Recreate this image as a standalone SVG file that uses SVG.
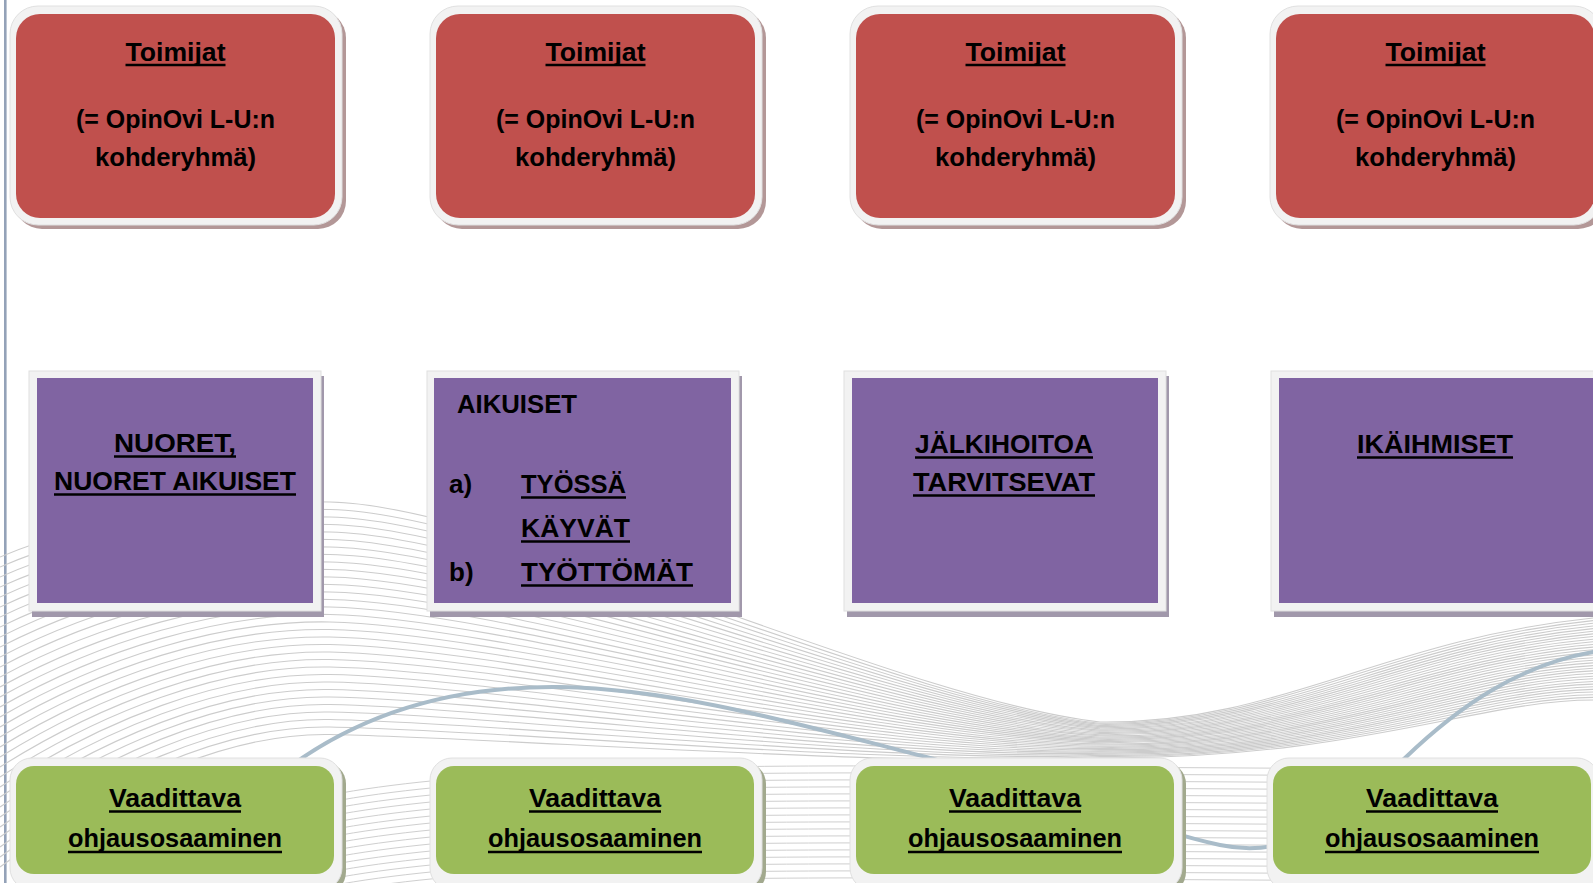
<svg xmlns="http://www.w3.org/2000/svg" width="1593" height="883" viewBox="0 0 1593 883">
<defs>
<style>
.bgl{fill:none;stroke:#cccccc;stroke-width:1.1}
.bgl2{fill:none;stroke:#cfcfcf;stroke-width:1}
.wave{fill:none;stroke:#a9bcc9;stroke-width:4;stroke-linecap:round}
.frame{fill:#f2f2f2;stroke:#e0e0e0;stroke-width:1}
.red{fill:#c0504d}
.purple{fill:#8064a2}
.green{fill:#9bbb59}
.shr{fill:#b39797}
.shp{fill:#a198ab}
.shg{fill:#a2a98e}
.t{font-family:"Liberation Sans",Arial,sans-serif;font-weight:bold;fill:#000}
.r{font-size:26px}
.p{font-size:26.4px}
.g{font-size:25.5px}
.ul{stroke:#000;stroke-width:2.6}
</style>
</defs>
<rect x="0" y="0" width="1593" height="883" fill="#ffffff"/>
<g id="background">
<rect x="4" y="0" width="2.6" height="883" fill="#94a2b8"/>
<g id="lines-main" class="bgl">
<path d="M0,557 C100,515 220,500 330,502 C500,505 900,700 1100,722 C1280,724 1380,640 1593,618"/>
<path d="M0,567 C100,524 220,507.5 330,509.5 C500,512.5 900,702.2 1100,723.2 C1282,725 1383,642 1593,620.6"/>
<path d="M0,577 C100,533 220,515 330,517 C500,520 900,704.4 1100,724.3 C1284.5,726.3 1386.5,644 1593,623.3"/>
<path d="M0,587 C100,542 220,522.5 330,524.5 C500,527.5 900,706.6 1100,725.5 C1287,727.5 1390,646 1593,626"/>
<path d="M0,597 C100,551 220,530 330,532 C500,535 900,708.8 1100,726.6 C1289,728.6 1393,648 1593,628.6"/>
<path d="M0,607 C100,560 220,537.5 330,539.5 C500,542.5 900,711 1100,727.8 C1291,730 1396,650 1593,631.2"/>
<path d="M0,617 C100,569 220,545 330,547 C500,550 900,713.2 1100,728.9 C1293.6,731 1399.4,651.6 1593,633.9"/>
<path d="M0,627 C100,578 220,552.5 330,554.5 C500,557.5 900,715.4 1100,730.1 C1296,732 1402.6,653.5 1593,636.5"/>
<path d="M0,637 C100,587 220,560 330,562 C500,565 900,717.6 1100,731.2 C1298,733.3 1405.8,655.5 1593,639.2"/>
<path d="M0,647 C100,596 220,567.5 330,569.5 C500,572.5 900,719.8 1100,732.4 C1300,734.4 1409,657.4 1593,641.8"/>
<path d="M0,657 C100,605 220,575 330,577 C500,580 900,722 1100,733.5 C1302.6,735.6 1412.3,659.4 1593,644.5"/>
<path d="M0,667 C100,614 220,582.5 330,584.5 C500,587.5 900,724.2 1100,734.7 C1304.8,736.8 1415.5,661.3 1593,647.1"/>
<path d="M0,677 C100,623 220,590 330,592 C500,595 900,726.4 1100,735.8 C1307,737.9 1418.7,663.2 1593,649.7"/>
<path d="M0,687 C100,632 220,597.5 330,599.5 C500,602.5 900,728.6 1100,737 C1309.4,739.1 1421.9,665.2 1593,652.4"/>
<path d="M0,697 C100,641 220,605 330,607 C500,610 900,730.8 1100,738.1 C1311.6,740.3 1425.2,667.1 1593,655"/>
<path d="M0,707 C100,650 220,612.5 330,614.5 C500,617.5 900,733 1100,739.3 C1314,741.4 1428.4,669 1593,657.7"/>
<path d="M0,717 C100,659 220,620 330,622 C500,625 900,735.2 1100,740.4 C1316,742.6 1431.6,671 1593,660.3"/>
<path d="M0,727 C100,668 220,627.5 330,629.5 C500,632.5 900,737.4 1100,741.6 C1318.4,743.7 1434.8,672.9 1593,662.9"/>
<path d="M0,737 C100,677 220,635 330,637 C500,640 900,739.6 1100,742.7 C1320.7,744.9 1438,674.9 1593,665.6"/>
<path d="M0,747 C100,686 220,642.5 330,644.5 C500,647.5 900,741.8 1100,743.9 C1323,746.1 1441.3,676.8 1593,668.3"/>
<path d="M0,757 C100,695 220,650 330,652 C500,655 900,744 1100,745 C1325,747.2 1444.5,678.7 1593,670.9"/>
<path d="M0,767 C100,704 220,657.5 330,659.5 C500,662.5 900,746.2 1100,746.2 C1327.4,748.4 1447.7,680.6 1593,673.5"/>
<path d="M0,777 C100,713 220,665 330,667 C500,670 900,748.4 1100,747.3 C1329.7,749.6 1451,682.6 1593,676.2"/>
<path d="M0,787 C100,722 220,672.5 330,674.5 C500,677.5 900,750.6 1100,748.5 C1332,750.7 1454.2,684.5 1593,678.8"/>
<path d="M0,797 C100,731 220,680 330,682 C500,685 900,752.8 1100,749.6 C1334.2,751.9 1457.4,686.5 1593,681.5"/>
<path d="M0,807 C100,740 220,687.5 330,689.5 C500,692.5 900,755 1100,750.8 C1336.4,753 1460.6,688.4 1593,684.1"/>
<path d="M0,817 C100,749 220,695 330,697 C500,700 900,757.2 1100,751.9 C1338.7,754.2 1464,690.3 1593,686.8"/>
<path d="M0,827 C100,758 220,702.5 330,704.5 C500,707.5 900,759.4 1100,753.1 C1341,755.4 1467,692.3 1593,689.4"/>
<path d="M0,837 C100,767 220,710 330,712 C500,715 900,761.6 1100,754.2 C1343.2,756.5 1470.3,694.2 1593,692"/>
<path d="M0,847 C100,776 220,717.5 330,719.5 C500,722.5 900,763.8 1100,755.4 C1345.5,757.7 1473.5,696.1 1593,694.7"/>
<path d="M0,857 C100,785 220,725 330,727 C500,730 900,766 1100,756.5 C1347.7,758.8 1476.8,698.1 1593,697.4"/>
<path d="M0,867 C100,794 220,732.5 330,734.5 C500,737.5 900,768.2 1100,757.7 C1350,760 1480,700 1593,700"/>
</g>
<g id="lines-low" class="bgl2">
<path d="M330,795 C450,772 650,765 900,766 L1593,770"/>
<path d="M330,802 C450,779 650,772 900,773 L1593,777"/>
<path d="M330,809 C450,786 650,779 900,780 L1593,784"/>
<path d="M330,816 C450,793 650,786 900,787 L1593,791"/>
<path d="M330,823 C450,800 650,793 900,794 L1593,798"/>
<path d="M330,830 C450,807 650,800 900,801 L1593,805"/>
<path d="M330,837 C450,814 650,807 900,808 L1593,812"/>
<path d="M330,844 C450,821 650,814 900,815 L1593,819"/>
<path d="M330,851 C450,828 650,821 900,822 L1593,826"/>
<path d="M330,858 C450,835 650,828 900,829 L1593,833"/>
<path d="M330,865 C450,842 650,835 900,836 L1593,840"/>
<path d="M330,872 C450,849 650,842 900,843 L1593,847"/>
<path d="M330,879 C450,856 650,849 900,850 L1593,854"/>
<path d="M330,886 C450,863 650,856 900,857 L1593,861"/>
<path d="M330,893 C450,870 650,863 900,864 L1593,868"/>
<path d="M330,900 C450,877 650,870 900,871 L1593,875"/>
<path d="M330,907 C450,884 650,877 900,878 L1593,882"/>
</g>
<path class="wave" d="M288,768 C380,700 480,686 560,687 C680,689 800,725 930,758 C1050,790 1150,830 1220,845 C1300,862 1350,810 1405,758 C1460,705 1520,665 1593,652"/>
</g>

<g id="toimijat-1">
<rect class="shr" x="14" y="10" width="332" height="219" rx="28"/>
<rect class="frame" x="10" y="6" width="332" height="219" rx="28"/>
<rect class="red" x="16" y="14" width="319" height="204" rx="24"/>
<text class="t r" x="175.5" y="61" text-anchor="middle" textLength="100" lengthAdjust="spacingAndGlyphs">Toimijat</text>
<line class="ul" x1="125.5" y1="65" x2="225.5" y2="65"/>
<text class="t r" x="175.5" y="128" text-anchor="middle" textLength="199" lengthAdjust="spacingAndGlyphs">(= OpinOvi L-U:n</text>
<text class="t r" x="175.5" y="166" text-anchor="middle" textLength="161" lengthAdjust="spacingAndGlyphs">kohderyhmä)</text>
</g>
<g id="toimijat-2" transform="translate(420,0)">
<rect class="shr" x="14" y="10" width="332" height="219" rx="28"/>
<rect class="frame" x="10" y="6" width="332" height="219" rx="28"/>
<rect class="red" x="16" y="14" width="319" height="204" rx="24"/>
<text class="t r" x="175.5" y="61" text-anchor="middle" textLength="100" lengthAdjust="spacingAndGlyphs">Toimijat</text>
<line class="ul" x1="125.5" y1="65" x2="225.5" y2="65"/>
<text class="t r" x="175.5" y="128" text-anchor="middle" textLength="199" lengthAdjust="spacingAndGlyphs">(= OpinOvi L-U:n</text>
<text class="t r" x="175.5" y="166" text-anchor="middle" textLength="161" lengthAdjust="spacingAndGlyphs">kohderyhmä)</text>
</g>
<g id="toimijat-3" transform="translate(840,0)">
<rect class="shr" x="14" y="10" width="332" height="219" rx="28"/>
<rect class="frame" x="10" y="6" width="332" height="219" rx="28"/>
<rect class="red" x="16" y="14" width="319" height="204" rx="24"/>
<text class="t r" x="175.5" y="61" text-anchor="middle" textLength="100" lengthAdjust="spacingAndGlyphs">Toimijat</text>
<line class="ul" x1="125.5" y1="65" x2="225.5" y2="65"/>
<text class="t r" x="175.5" y="128" text-anchor="middle" textLength="199" lengthAdjust="spacingAndGlyphs">(= OpinOvi L-U:n</text>
<text class="t r" x="175.5" y="166" text-anchor="middle" textLength="161" lengthAdjust="spacingAndGlyphs">kohderyhmä)</text>
</g>
<g id="toimijat-4" transform="translate(1260,0)">
<rect class="shr" x="14" y="10" width="332" height="219" rx="28"/>
<rect class="frame" x="10" y="6" width="332" height="219" rx="28"/>
<rect class="red" x="16" y="14" width="319" height="204" rx="24"/>
<text class="t r" x="175.5" y="61" text-anchor="middle" textLength="100" lengthAdjust="spacingAndGlyphs">Toimijat</text>
<line class="ul" x1="125.5" y1="65" x2="225.5" y2="65"/>
<text class="t r" x="175.5" y="128" text-anchor="middle" textLength="199" lengthAdjust="spacingAndGlyphs">(= OpinOvi L-U:n</text>
<text class="t r" x="175.5" y="166" text-anchor="middle" textLength="161" lengthAdjust="spacingAndGlyphs">kohderyhmä)</text>
</g>

<g id="nuoret">
<rect class="shp" x="32" y="376" width="292" height="241"/>
<rect class="frame" x="29" y="371" width="292" height="240"/>
<rect class="purple" x="37" y="378" width="276" height="225"/>
<text class="t p" x="175" y="452" text-anchor="middle" textLength="122" lengthAdjust="spacingAndGlyphs">NUORET,</text>
<line class="ul" x1="114" y1="456.5" x2="236" y2="456.5"/>
<text class="t p" x="175" y="490" text-anchor="middle" textLength="242" lengthAdjust="spacingAndGlyphs">NUORET AIKUISET</text>
<line class="ul" x1="54" y1="494.5" x2="296" y2="494.5"/>
</g>
<g id="aikuiset">
<rect class="shp" x="430" y="376" width="312" height="241"/>
<rect class="frame" x="427" y="371" width="312" height="240"/>
<rect class="purple" x="434" y="378" width="297" height="225"/>
<text class="t r" x="457" y="413" textLength="120" lengthAdjust="spacingAndGlyphs">AIKUISET</text>
<text class="t r" x="449" y="493">a)</text>
<text class="t r" x="521" y="493" textLength="105" lengthAdjust="spacingAndGlyphs">TYÖSSÄ</text>
<line class="ul" x1="521" y1="497.5" x2="626" y2="497.5"/>
<text class="t r" x="521" y="537" textLength="109" lengthAdjust="spacingAndGlyphs">KÄYVÄT</text>
<line class="ul" x1="521" y1="541.5" x2="630" y2="541.5"/>
<text class="t r" x="449" y="581">b)</text>
<text class="t r" x="521" y="581" textLength="172" lengthAdjust="spacingAndGlyphs">TYÖTTÖMÄT</text>
<line class="ul" x1="521" y1="585.5" x2="693" y2="585.5"/>
</g>
<g id="jalkihoitoa">
<rect class="shp" x="847" y="376" width="322" height="241"/>
<rect class="frame" x="844" y="371" width="322" height="240"/>
<rect class="purple" x="852" y="378" width="306" height="225"/>
<text class="t p" x="1004" y="453" text-anchor="middle" textLength="178" lengthAdjust="spacingAndGlyphs">JÄLKIHOITOA</text>
<line class="ul" x1="915" y1="457.5" x2="1093" y2="457.5"/>
<text class="t p" x="1004" y="491" text-anchor="middle" textLength="182" lengthAdjust="spacingAndGlyphs">TARVITSEVAT</text>
<line class="ul" x1="913" y1="495.5" x2="1095" y2="495.5"/>
</g>
<g id="ikaihmiset">
<rect class="shp" x="1274" y="376" width="330" height="241"/>
<rect class="frame" x="1271" y="371" width="330" height="240"/>
<rect class="purple" x="1279" y="378" width="318" height="225"/>
<text class="t p" x="1435" y="453" text-anchor="middle" textLength="156" lengthAdjust="spacingAndGlyphs">IKÄIHMISET</text>
<line class="ul" x1="1357" y1="457.5" x2="1513" y2="457.5"/>
</g>

<g id="ohjaus-1">
<rect class="shg" x="14" y="762" width="332" height="132" rx="22"/>
<rect class="frame" x="10" y="758" width="332" height="132" rx="22"/>
<rect class="green" x="16" y="766" width="318" height="108" rx="18"/>
<text class="t g" x="175" y="807" text-anchor="middle" textLength="132" lengthAdjust="spacingAndGlyphs">Vaadittava</text>
<line class="ul" x1="109" y1="811.5" x2="241" y2="811.5"/>
<text class="t g" x="175" y="847" text-anchor="middle" textLength="214" lengthAdjust="spacingAndGlyphs">ohjausosaaminen</text>
<line class="ul" x1="68" y1="852" x2="282" y2="852"/>
</g>
<g id="ohjaus-2" transform="translate(420,0)">
<rect class="shg" x="14" y="762" width="332" height="132" rx="22"/>
<rect class="frame" x="10" y="758" width="332" height="132" rx="22"/>
<rect class="green" x="16" y="766" width="318" height="108" rx="18"/>
<text class="t g" x="175" y="807" text-anchor="middle" textLength="132" lengthAdjust="spacingAndGlyphs">Vaadittava</text>
<line class="ul" x1="109" y1="811.5" x2="241" y2="811.5"/>
<text class="t g" x="175" y="847" text-anchor="middle" textLength="214" lengthAdjust="spacingAndGlyphs">ohjausosaaminen</text>
<line class="ul" x1="68" y1="852" x2="282" y2="852"/>
</g>
<g id="ohjaus-3" transform="translate(840,0)">
<rect class="shg" x="14" y="762" width="332" height="132" rx="22"/>
<rect class="frame" x="10" y="758" width="332" height="132" rx="22"/>
<rect class="green" x="16" y="766" width="318" height="108" rx="18"/>
<text class="t g" x="175" y="807" text-anchor="middle" textLength="132" lengthAdjust="spacingAndGlyphs">Vaadittava</text>
<line class="ul" x1="109" y1="811.5" x2="241" y2="811.5"/>
<text class="t g" x="175" y="847" text-anchor="middle" textLength="214" lengthAdjust="spacingAndGlyphs">ohjausosaaminen</text>
<line class="ul" x1="68" y1="852" x2="282" y2="852"/>
</g>
<g id="ohjaus-4" transform="translate(1257,0)">
<rect class="shg" x="14" y="762" width="332" height="132" rx="22"/>
<rect class="frame" x="10" y="758" width="332" height="132" rx="22"/>
<rect class="green" x="16" y="766" width="318" height="108" rx="18"/>
<text class="t g" x="175" y="807" text-anchor="middle" textLength="132" lengthAdjust="spacingAndGlyphs">Vaadittava</text>
<line class="ul" x1="109" y1="811.5" x2="241" y2="811.5"/>
<text class="t g" x="175" y="847" text-anchor="middle" textLength="214" lengthAdjust="spacingAndGlyphs">ohjausosaaminen</text>
<line class="ul" x1="68" y1="852" x2="282" y2="852"/>
</g>
<g id="connectors"/>
</svg>
